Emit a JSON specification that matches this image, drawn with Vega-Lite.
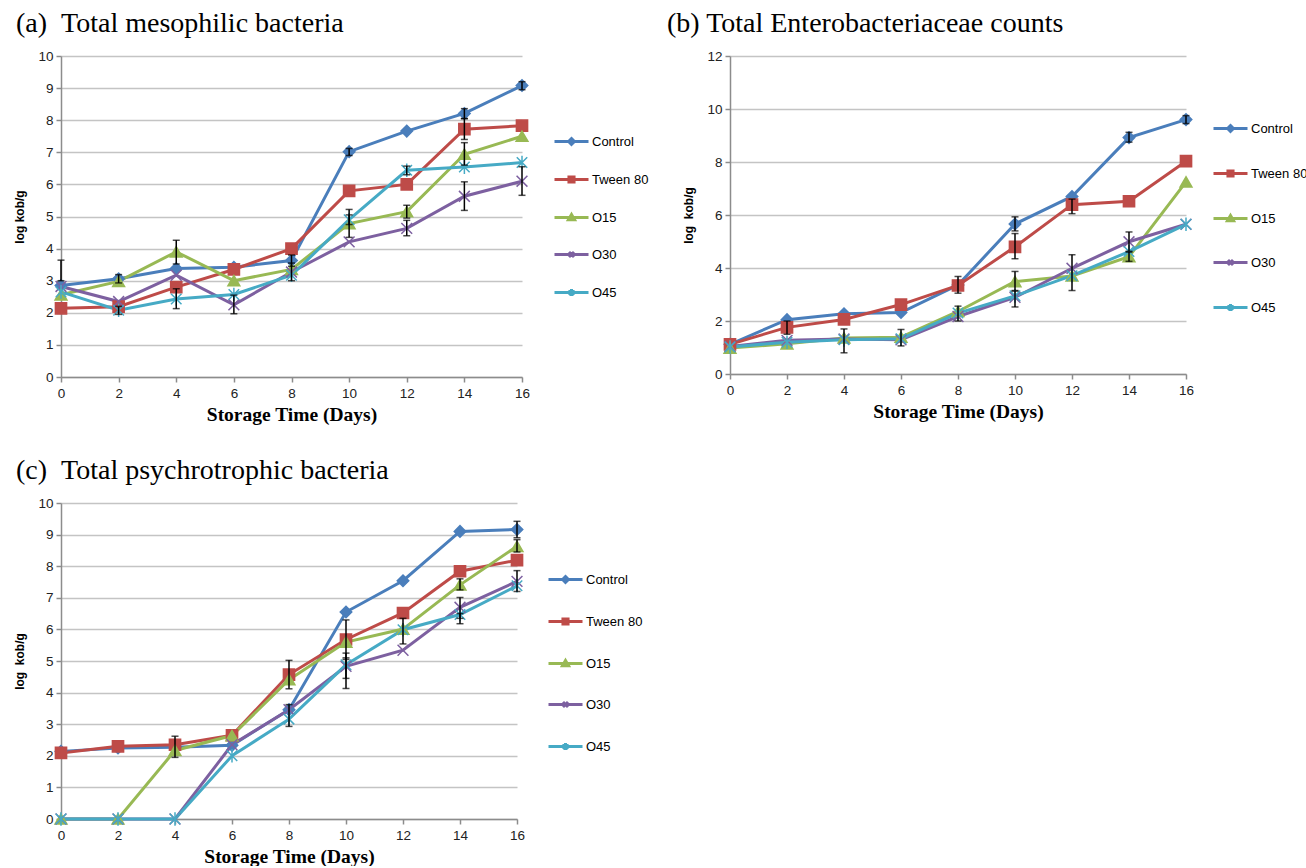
{
  "$schema": "https://vega.github.io/schema/vega-lite/v6.json",
  "background": "white",
  "padding": {"left": 13, "top": 10, "right": 0, "bottom": 0},
  "config": {
    "view": {"stroke": null},
    "font": "Liberation Sans",
    "title": {"font": "Liberation Serif", "fontSize": 28, "fontWeight": "normal", "anchor": "start", "frame": "bounds", "color": "#000", "offset": 11},
    "axis": {"labelFont": "Liberation Sans", "labelFontSize": 13.5, "labelColor": "#222", "domainColor": "#8C8C8C", "domainWidth": 1.5, "tickColor": "#8C8C8C", "tickWidth": 1.5, "tickSize": 5, "gridColor": "#C4C4C4", "gridWidth": 1.5, "titleColor": "#000", "labelPadding": 3},
    "axisX": {"grid": false, "labelFlush": false, "titleFont": "Liberation Serif", "titleFontSize": 19.5, "titleFontWeight": "bold", "titlePadding": 6, "labelPadding": 4},
    "axisY": {"grid": true, "titleFont": "Liberation Sans", "titleFontSize": 12, "titleFontWeight": "bold", "titlePadding": 11},
    "legend": {"labelFont": "Liberation Sans", "labelFontSize": 13, "labelColor": "#000", "symbolSize": 1156, "symbolStrokeWidth": 3, "labelOffset": 2, "padding": 0}
  },
  "datasets": {
    "a": [
      {"series": "Control", "day": 0, "value": 2.85, "lo": 3.0, "hi": 3.64},
      {"series": "Control", "day": 2, "value": 3.06, "lo": 2.93, "hi": 3.19},
      {"series": "Control", "day": 4, "value": 3.38},
      {"series": "Control", "day": 6, "value": 3.42},
      {"series": "Control", "day": 8, "value": 3.63, "lo": 3.45, "hi": 3.8},
      {"series": "Control", "day": 10, "value": 7.02, "lo": 6.9, "hi": 7.12},
      {"series": "Control", "day": 12, "value": 7.66},
      {"series": "Control", "day": 14, "value": 8.21, "lo": 8.05, "hi": 8.36},
      {"series": "Control", "day": 16, "value": 9.08, "lo": 8.95, "hi": 9.2},
      {"series": "Tween 80", "day": 0, "value": 2.14},
      {"series": "Tween 80", "day": 2, "value": 2.19},
      {"series": "Tween 80", "day": 4, "value": 2.8},
      {"series": "Tween 80", "day": 6, "value": 3.35},
      {"series": "Tween 80", "day": 8, "value": 4.0},
      {"series": "Tween 80", "day": 10, "value": 5.8},
      {"series": "Tween 80", "day": 12, "value": 6.0},
      {"series": "Tween 80", "day": 14, "value": 7.72, "lo": 7.4, "hi": 8.05},
      {"series": "Tween 80", "day": 16, "value": 7.83},
      {"series": "O15", "day": 0, "value": 2.56},
      {"series": "O15", "day": 2, "value": 2.98},
      {"series": "O15", "day": 4, "value": 3.9, "lo": 3.52, "hi": 4.26},
      {"series": "O15", "day": 6, "value": 3.0},
      {"series": "O15", "day": 8, "value": 3.35},
      {"series": "O15", "day": 10, "value": 4.78, "lo": 4.35, "hi": 5.22},
      {"series": "O15", "day": 12, "value": 5.15, "lo": 4.95, "hi": 5.35},
      {"series": "O15", "day": 14, "value": 6.94, "lo": 6.6, "hi": 7.3},
      {"series": "O15", "day": 16, "value": 7.5},
      {"series": "O30", "day": 0, "value": 2.82},
      {"series": "O30", "day": 2, "value": 2.35},
      {"series": "O30", "day": 4, "value": 3.17},
      {"series": "O30", "day": 6, "value": 2.25, "lo": 1.97, "hi": 2.55},
      {"series": "O30", "day": 8, "value": 3.27, "lo": 3.0, "hi": 3.55},
      {"series": "O30", "day": 10, "value": 4.21},
      {"series": "O30", "day": 12, "value": 4.63, "lo": 4.4, "hi": 4.88},
      {"series": "O30", "day": 14, "value": 5.63, "lo": 5.19, "hi": 6.08},
      {"series": "O30", "day": 16, "value": 6.1, "lo": 5.66, "hi": 6.55},
      {"series": "O45", "day": 0, "value": 2.65},
      {"series": "O45", "day": 2, "value": 2.08, "lo": 1.95, "hi": 2.2},
      {"series": "O45", "day": 4, "value": 2.43, "lo": 2.13, "hi": 2.75},
      {"series": "O45", "day": 6, "value": 2.57},
      {"series": "O45", "day": 8, "value": 3.17},
      {"series": "O45", "day": 10, "value": 4.9, "lo": 4.75, "hi": 5.05},
      {"series": "O45", "day": 12, "value": 6.44, "lo": 6.3, "hi": 6.57},
      {"series": "O45", "day": 14, "value": 6.54},
      {"series": "O45", "day": 16, "value": 6.68}
    ],
    "b": [
      {"series": "Control", "day": 0, "value": 1.12},
      {"series": "Control", "day": 2, "value": 2.05},
      {"series": "Control", "day": 4, "value": 2.27},
      {"series": "Control", "day": 6, "value": 2.32},
      {"series": "Control", "day": 8, "value": 3.36, "lo": 3.05, "hi": 3.68},
      {"series": "Control", "day": 10, "value": 5.66, "lo": 5.4, "hi": 5.93},
      {"series": "Control", "day": 12, "value": 6.7},
      {"series": "Control", "day": 14, "value": 8.92, "lo": 8.75, "hi": 9.12},
      {"series": "Control", "day": 16, "value": 9.6, "lo": 9.45, "hi": 9.75},
      {"series": "Tween 80", "day": 0, "value": 1.12},
      {"series": "Tween 80", "day": 2, "value": 1.76, "lo": 1.5, "hi": 2.0},
      {"series": "Tween 80", "day": 4, "value": 2.06},
      {"series": "Tween 80", "day": 6, "value": 2.62},
      {"series": "Tween 80", "day": 8, "value": 3.34},
      {"series": "Tween 80", "day": 10, "value": 4.8, "lo": 4.35, "hi": 5.3},
      {"series": "Tween 80", "day": 12, "value": 6.39, "lo": 6.05, "hi": 6.6},
      {"series": "Tween 80", "day": 14, "value": 6.52},
      {"series": "Tween 80", "day": 16, "value": 8.03},
      {"series": "O15", "day": 0, "value": 0.98},
      {"series": "O15", "day": 2, "value": 1.14},
      {"series": "O15", "day": 4, "value": 1.36, "lo": 0.8, "hi": 1.7},
      {"series": "O15", "day": 6, "value": 1.39, "lo": 1.06, "hi": 1.68},
      {"series": "O15", "day": 8, "value": 2.36, "lo": 2.0, "hi": 2.56},
      {"series": "O15", "day": 10, "value": 3.49, "lo": 3.15, "hi": 3.87},
      {"series": "O15", "day": 12, "value": 3.7},
      {"series": "O15", "day": 14, "value": 4.43, "lo": 4.25, "hi": 4.6},
      {"series": "O15", "day": 16, "value": 7.25},
      {"series": "O30", "day": 0, "value": 1.04},
      {"series": "O30", "day": 2, "value": 1.27},
      {"series": "O30", "day": 4, "value": 1.32},
      {"series": "O30", "day": 6, "value": 1.29},
      {"series": "O30", "day": 8, "value": 2.17},
      {"series": "O30", "day": 10, "value": 2.89, "lo": 2.53, "hi": 3.13},
      {"series": "O30", "day": 12, "value": 3.99, "lo": 3.15, "hi": 4.5},
      {"series": "O30", "day": 14, "value": 4.99, "lo": 4.63, "hi": 5.36},
      {"series": "O30", "day": 16, "value": 5.65},
      {"series": "O45", "day": 0, "value": 1.02},
      {"series": "O45", "day": 2, "value": 1.2},
      {"series": "O45", "day": 4, "value": 1.29},
      {"series": "O45", "day": 6, "value": 1.33},
      {"series": "O45", "day": 8, "value": 2.3},
      {"series": "O45", "day": 10, "value": 2.95},
      {"series": "O45", "day": 12, "value": 3.71},
      {"series": "O45", "day": 14, "value": 4.62},
      {"series": "O45", "day": 16, "value": 5.65}
    ],
    "c": [
      {"series": "Control", "day": 0, "value": 2.14},
      {"series": "Control", "day": 2, "value": 2.25},
      {"series": "Control", "day": 4, "value": 2.27},
      {"series": "Control", "day": 6, "value": 2.33},
      {"series": "Control", "day": 8, "value": 3.46},
      {"series": "Control", "day": 10, "value": 6.55},
      {"series": "Control", "day": 12, "value": 7.54},
      {"series": "Control", "day": 14, "value": 9.1},
      {"series": "Control", "day": 16, "value": 9.16, "lo": 8.9, "hi": 9.42},
      {"series": "Tween 80", "day": 0, "value": 2.09},
      {"series": "Tween 80", "day": 2, "value": 2.3},
      {"series": "Tween 80", "day": 4, "value": 2.35, "lo": 1.95, "hi": 2.62},
      {"series": "Tween 80", "day": 6, "value": 2.65},
      {"series": "Tween 80", "day": 8, "value": 4.57, "lo": 4.12, "hi": 5.02},
      {"series": "Tween 80", "day": 10, "value": 5.68, "lo": 5.05, "hi": 6.3},
      {"series": "Tween 80", "day": 12, "value": 6.52},
      {"series": "Tween 80", "day": 14, "value": 7.84},
      {"series": "Tween 80", "day": 16, "value": 8.19},
      {"series": "O15", "day": 0, "value": 0},
      {"series": "O15", "day": 2, "value": 0},
      {"series": "O15", "day": 4, "value": 2.17},
      {"series": "O15", "day": 6, "value": 2.64},
      {"series": "O15", "day": 8, "value": 4.41},
      {"series": "O15", "day": 10, "value": 5.6},
      {"series": "O15", "day": 12, "value": 6.01, "lo": 5.54, "hi": 6.35},
      {"series": "O15", "day": 14, "value": 7.41, "lo": 7.25, "hi": 7.6},
      {"series": "O15", "day": 16, "value": 8.63, "lo": 8.45, "hi": 8.84},
      {"series": "O30", "day": 0, "value": 0},
      {"series": "O30", "day": 2, "value": 0},
      {"series": "O30", "day": 4, "value": 0},
      {"series": "O30", "day": 6, "value": 2.35},
      {"series": "O30", "day": 8, "value": 3.46, "lo": 2.93, "hi": 3.62},
      {"series": "O30", "day": 10, "value": 4.83, "lo": 4.13, "hi": 5.1},
      {"series": "O30", "day": 12, "value": 5.34},
      {"series": "O30", "day": 14, "value": 6.7, "lo": 6.35, "hi": 7.01},
      {"series": "O30", "day": 16, "value": 7.52, "lo": 7.2, "hi": 7.86},
      {"series": "O45", "day": 0, "value": 0},
      {"series": "O45", "day": 2, "value": 0},
      {"series": "O45", "day": 4, "value": 0},
      {"series": "O45", "day": 6, "value": 2.0},
      {"series": "O45", "day": 8, "value": 3.16},
      {"series": "O45", "day": 10, "value": 4.88, "lo": 4.45, "hi": 5.25},
      {"series": "O45", "day": 12, "value": 5.99},
      {"series": "O45", "day": 14, "value": 6.47, "lo": 6.18, "hi": 6.5},
      {"series": "O45", "day": 16, "value": 7.38}
    ]
  },
  "resolve": {"scale": {"color": "independent", "shape": "independent", "size": "independent", "stroke": "independent"}, "legend": {"color": "independent"}},
  "columns": 2,
  "align": "none",
  "spacing": {"row": 33, "column": 17},
  "concat": [
    {
      "width": 461,
      "height": 321,
      "data": {"name": "a"},
      "title": {"text": "(a) \u00a0Total mesophilic bacteria", "dx": 2},
      "encoding": {
        "x": {"field": "day", "type": "quantitative", "scale": {"domain": [0, 16], "nice": false, "zero": false}, "axis": {"values": [0, 2, 4, 6, 8, 10, 12, 14, 16], "title": "Storage Time (Days)"}},
        "y": {"field": "value", "type": "quantitative", "scale": {"domain": [0, 10], "nice": false}, "axis": {"values": [0, 1, 2, 3, 4, 5, 6, 7, 8, 9, 10], "title": "log kob/g"}},
        "color": {"field": "series", "type": "nominal",
          "scale": {"domain": ["Control", "Tween 80", "O15", "O30", "O45"], "range": ["#4A7EBB", "#BE4B48", "#98B954", "#7D60A0", "#46AAC5"]},
          "legend": {"title": null, "orient": "none", "legendX": 492, "legendY": 67, "rowPadding": 10,
            "encode": {"symbols": {"update": {
              "shape": {"signal": "datum.value==='Control'?'M-1,0L1,0M0,-0.17L0.17,0L0,0.17L-0.17,0Z':datum.value==='Tween 80'?'M-1,0L1,0M-0.15,-0.15L0.15,-0.15L0.15,0.15L-0.15,0.15Z':datum.value==='O15'?'M-1,0L1,0M0,-0.18L0.18,0.13L-0.18,0.13Z':datum.value==='O30'?'M-1,0L1,0M-0.15,-0.15L0.15,0.15M-0.15,0.15L0.15,-0.15':'M-1,0L1,0M-0.15,-0.15L0.15,0.15M-0.15,0.15L0.15,-0.15M0,-0.2L0,0.2'"},
              "stroke": {"signal": "datum.value==='Control'?'#4A7EBB':datum.value==='Tween 80'?'#BE4B48':datum.value==='O15'?'#98B954':datum.value==='O30'?'#7D60A0':'#46AAC5'"},
              "fill": {"signal": "datum.value==='Control'?'#4A7EBB':datum.value==='Tween 80'?'#BE4B48':datum.value==='O15'?'#98B954':datum.value==='O30'?'#7D60A0':'#46AAC5'"},
              "size": {"value": 1156},
              "strokeWidth": {"value": 3},
              "opacity": {"value": 1}
            }}}
          }
        }
      },
      "layer": [
        {"mark": {"type": "line", "strokeWidth": 3}, "encoding": {}},
        {"mark": {"type": "point", "filled": true, "opacity": 1, "strokeWidth": 1.5},
          "encoding": {
            "shape": {"field": "series", "type": "nominal", "legend": null, "scale": {"domain": ["O45", "O30", "O15", "Tween 80", "Control"], "range": ["M-1,-1L1,1M-1,1L1,-1M0,-1.3L0,1.3", "M-1,-1L1,1M-1,1L1,-1", "triangle-up", "square", "diamond"]}},
            "stroke": {"field": "series", "type": "nominal", "legend": null, "scale": {"domain": ["Tween 80", "Control", "O15", "O30", "O45"], "range": ["#BE4B48", "#4A7EBB", "#98B954", "#7D60A0", "#46AAC5"]}},
            "size": {"field": "series", "type": "nominal", "legend": null, "scale": {"domain": ["O15", "Control", "Tween 80", "O30", "O45"], "range": [140, 110, 150, 100, 100]}}
          }
        },
        {"transform": [{"filter": "isValid(datum.lo)"}],
          "mark": {"type": "errorbar", "ticks": {"size": 7, "thickness": 1.5, "color": "black"}, "rule": {"strokeWidth": 1.5, "color": "black"}},
          "encoding": {"y": {"field": "lo", "type": "quantitative", "title": "log kob/g"}, "y2": {"field": "hi"}, "color": {"value": "black"}}
        }
      ]
    },
    {
      "width": 456,
      "height": 318,
      "data": {"name": "b"},
      "title": {"text": "(b) Total Enterobacteriaceae counts", "dx": -16},
      "encoding": {
        "x": {"field": "day", "type": "quantitative", "scale": {"domain": [0, 16], "nice": false, "zero": false}, "axis": {"values": [0, 2, 4, 6, 8, 10, 12, 14, 16], "title": "Storage Time (Days)"}},
        "y": {"field": "value", "type": "quantitative", "scale": {"domain": [0, 12], "nice": false}, "axis": {"values": [0, 2, 4, 6, 8, 10, 12], "title": "log\u00a0 kob/g"}},
        "color": {"field": "series", "type": "nominal",
          "scale": {"domain": ["Control", "Tween 80", "O15", "O30", "O45"], "range": ["#4A7EBB", "#BE4B48", "#98B954", "#7D60A0", "#46AAC5"]},
          "legend": {"title": null, "orient": "none", "legendX": 482, "legendY": 54, "rowPadding": 17,
            "encode": {"symbols": {"update": {
              "shape": {"signal": "datum.value==='Control'?'M-1,0L1,0M0,-0.17L0.17,0L0,0.17L-0.17,0Z':datum.value==='Tween 80'?'M-1,0L1,0M-0.15,-0.15L0.15,-0.15L0.15,0.15L-0.15,0.15Z':datum.value==='O15'?'M-1,0L1,0M0,-0.18L0.18,0.13L-0.18,0.13Z':datum.value==='O30'?'M-1,0L1,0M-0.15,-0.15L0.15,0.15M-0.15,0.15L0.15,-0.15':'M-1,0L1,0M-0.15,-0.15L0.15,0.15M-0.15,0.15L0.15,-0.15M0,-0.2L0,0.2'"},
              "stroke": {"signal": "datum.value==='Control'?'#4A7EBB':datum.value==='Tween 80'?'#BE4B48':datum.value==='O15'?'#98B954':datum.value==='O30'?'#7D60A0':'#46AAC5'"},
              "fill": {"signal": "datum.value==='Control'?'#4A7EBB':datum.value==='Tween 80'?'#BE4B48':datum.value==='O15'?'#98B954':datum.value==='O30'?'#7D60A0':'#46AAC5'"},
              "size": {"value": 1156},
              "strokeWidth": {"value": 3},
              "opacity": {"value": 1}
            }}}
          }
        }
      },
      "layer": [
        {"mark": {"type": "line", "strokeWidth": 3}, "encoding": {}},
        {"mark": {"type": "point", "filled": true, "opacity": 1, "strokeWidth": 1.5},
          "encoding": {
            "shape": {"field": "series", "type": "nominal", "legend": null, "scale": {"domain": ["O45", "O30", "O15", "Tween 80", "Control"], "range": ["M-1,-1L1,1M-1,1L1,-1M0,-1.3L0,1.3", "M-1,-1L1,1M-1,1L1,-1", "triangle-up", "square", "diamond"]}},
            "stroke": {"field": "series", "type": "nominal", "legend": null, "scale": {"domain": ["Tween 80", "Control", "O15", "O30", "O45"], "range": ["#BE4B48", "#4A7EBB", "#98B954", "#7D60A0", "#46AAC5"]}},
            "size": {"field": "series", "type": "nominal", "legend": null, "scale": {"domain": ["O15", "Control", "Tween 80", "O30", "O45"], "range": [140, 110, 150, 100, 100]}}
          }
        },
        {"transform": [{"filter": "isValid(datum.lo)"}],
          "mark": {"type": "errorbar", "ticks": {"size": 7, "thickness": 1.5, "color": "black"}, "rule": {"strokeWidth": 1.5, "color": "black"}},
          "encoding": {"y": {"field": "lo", "type": "quantitative", "title": "log\u00a0 kob/g"}, "y2": {"field": "hi"}, "color": {"value": "black"}}
        }
      ]
    },
    {
      "width": 456,
      "height": 316,
      "data": {"name": "c"},
      "title": {"text": "(c) \u00a0Total psychrotrophic bacteria", "dx": 2},
      "encoding": {
        "x": {"field": "day", "type": "quantitative", "scale": {"domain": [0, 16], "nice": false, "zero": false}, "axis": {"values": [0, 2, 4, 6, 8, 10, 12, 14, 16], "title": "Storage Time (Days)"}},
        "y": {"field": "value", "type": "quantitative", "scale": {"domain": [0, 10], "nice": false}, "axis": {"values": [0, 1, 2, 3, 4, 5, 6, 7, 8, 9, 10], "title": "log\u00a0 kob/g"}},
        "color": {"field": "series", "type": "nominal",
          "scale": {"domain": ["Control", "Tween 80", "O15", "O30", "O45"], "range": ["#4A7EBB", "#BE4B48", "#98B954", "#7D60A0", "#46AAC5"]},
          "legend": {"title": null, "orient": "none", "legendX": 486, "legendY": 58, "rowPadding": 14,
            "encode": {"symbols": {"update": {
              "shape": {"signal": "datum.value==='Control'?'M-1,0L1,0M0,-0.17L0.17,0L0,0.17L-0.17,0Z':datum.value==='Tween 80'?'M-1,0L1,0M-0.15,-0.15L0.15,-0.15L0.15,0.15L-0.15,0.15Z':datum.value==='O15'?'M-1,0L1,0M0,-0.18L0.18,0.13L-0.18,0.13Z':datum.value==='O30'?'M-1,0L1,0M-0.15,-0.15L0.15,0.15M-0.15,0.15L0.15,-0.15':'M-1,0L1,0M-0.15,-0.15L0.15,0.15M-0.15,0.15L0.15,-0.15M0,-0.2L0,0.2'"},
              "stroke": {"signal": "datum.value==='Control'?'#4A7EBB':datum.value==='Tween 80'?'#BE4B48':datum.value==='O15'?'#98B954':datum.value==='O30'?'#7D60A0':'#46AAC5'"},
              "fill": {"signal": "datum.value==='Control'?'#4A7EBB':datum.value==='Tween 80'?'#BE4B48':datum.value==='O15'?'#98B954':datum.value==='O30'?'#7D60A0':'#46AAC5'"},
              "size": {"value": 1156},
              "strokeWidth": {"value": 3},
              "opacity": {"value": 1}
            }}}
          }
        }
      },
      "layer": [
        {"mark": {"type": "line", "strokeWidth": 3}, "encoding": {}},
        {"mark": {"type": "point", "filled": true, "opacity": 1, "strokeWidth": 1.5},
          "encoding": {
            "shape": {"field": "series", "type": "nominal", "legend": null, "scale": {"domain": ["O45", "O30", "O15", "Tween 80", "Control"], "range": ["M-1,-1L1,1M-1,1L1,-1M0,-1.3L0,1.3", "M-1,-1L1,1M-1,1L1,-1", "triangle-up", "square", "diamond"]}},
            "stroke": {"field": "series", "type": "nominal", "legend": null, "scale": {"domain": ["Tween 80", "Control", "O15", "O30", "O45"], "range": ["#BE4B48", "#4A7EBB", "#98B954", "#7D60A0", "#46AAC5"]}},
            "size": {"field": "series", "type": "nominal", "legend": null, "scale": {"domain": ["O15", "Control", "Tween 80", "O30", "O45"], "range": [140, 110, 150, 100, 100]}}
          }
        },
        {"transform": [{"filter": "isValid(datum.lo)"}],
          "mark": {"type": "errorbar", "ticks": {"size": 7, "thickness": 1.5, "color": "black"}, "rule": {"strokeWidth": 1.5, "color": "black"}},
          "encoding": {"y": {"field": "lo", "type": "quantitative", "title": "log\u00a0 kob/g"}, "y2": {"field": "hi"}, "color": {"value": "black"}}
        }
      ]
    }
  ]
}
